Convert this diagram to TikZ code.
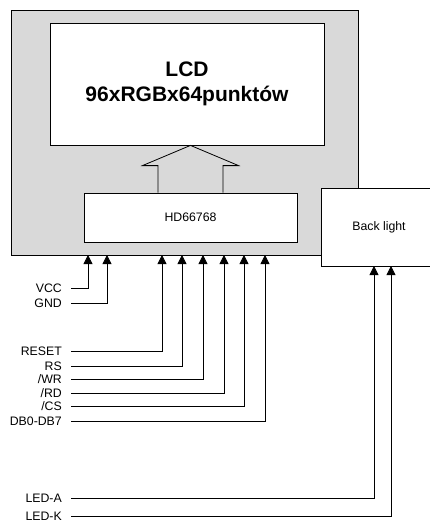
\documentclass[tikz,border=0pt]{standalone}
\usepackage{fontspec}
\setmainfont{Liberation Sans}
\usetikzlibrary{arrows.meta, calc}
\definecolor{modgray}{HTML}{D9D9D9}

\begin{document}
\begin{tikzpicture}[x=1pt, y=-1pt,
  box/.style={draw, line width=0.8pt, fill=white, inner sep=0pt, font=\fontsize{12.3}{14}\selectfont},
  sig/.style={anchor=east, inner xsep=9pt, inner ysep=0pt, text height=8.8pt, text depth=0pt, font=\fontsize{12.3}{14}\selectfont},
  wire/.style={line width=0.8pt, -{Triangle[length=9pt, width=9pt]}}
]
\useasboundingbox (0,0) rectangle (429,522);

% Display module (grey area)
\node[box, fill=modgray, minimum width=347pt, minimum height=245pt] (module) at (184.5,132.5) {};

% Blocks
\node[box, minimum width=274pt, minimum height=122pt, align=center,
      font=\bfseries\fontsize{21}{25}\selectfont] (lcd) at (187,84) {LCD\\96xRGBx64punktów};
\node[box, minimum width=213pt, minimum height=49pt] (chip) at (190.5,217.5) {HD66768};
\node[box, minimum width=116pt, minimum height=78pt] (backlight) at (379,227) {Back light};

% Hollow arrow chip -> LCD
\draw[line width=0.8pt] ($(chip.north)+(-32.5,0)$) -- ++(0,-27) -- ++(-15.5,0)
  -- (chip.north |- lcd.south) -- ($(chip.north)+(48,-27)$) -- ++(-15.5,0) -- ++(0,27);

% Signal lines into the module
\foreach \name/\txt/\yy/\xx in {vcc/VCC/288/88, gnd/GND/303/107, reset/RESET/351/162,
    rs/RS/366/182, wr/{/WR}/379/203, rd/{/RD}/393/224, cs/{/CS}/406/244, db/DB0-DB7/421/265} {
  \node[sig] (\name) at (71,\yy) {\txt};
  \coordinate (\name pin) at (\xx,255);
  \draw[wire] (\name) -| (\name pin);
}

% Back light supply
\foreach \name/\txt/\yy/\xx in {leda/LED-A/498/374, ledk/LED-K/516/391} {
  \node[sig] (\name) at (71,\yy) {\txt};
  \coordinate (\name pin) at (\xx,266);
  \draw[wire] (\name) -| (\name pin);
}

\end{tikzpicture}
\end{document}
